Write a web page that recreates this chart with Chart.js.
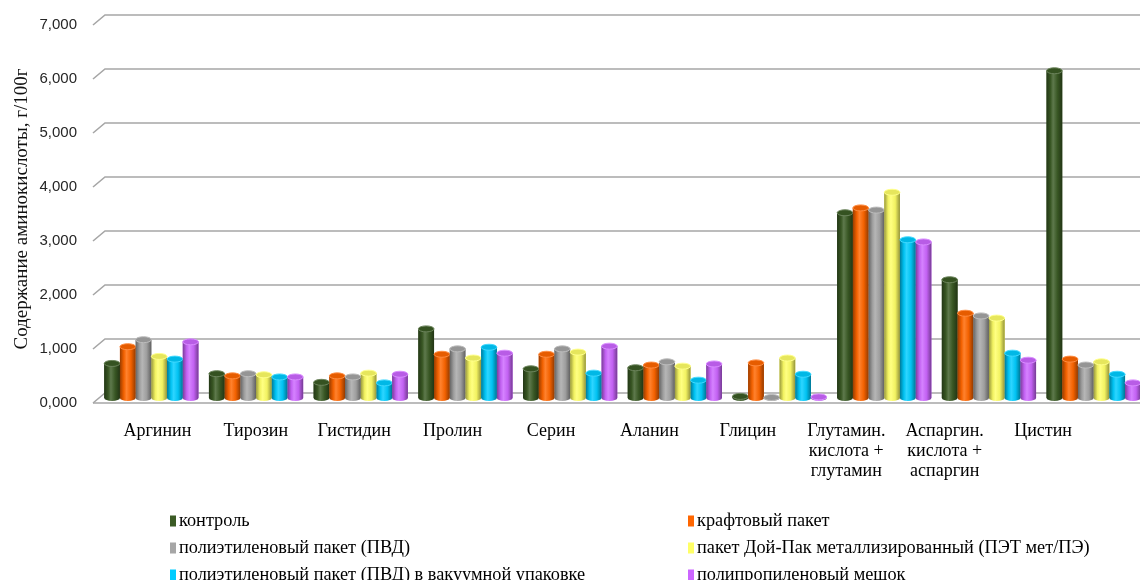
<!DOCTYPE html>
<html lang="ru">
<head>
<meta charset="utf-8">
<title>Содержание аминокислот</title>
<script src="https://cdn.jsdelivr.net/npm/chart.js@4.4.1/dist/chart.umd.min.js"></script>
<style>
  html, body { margin: 0; padding: 0; background: #fff; overflow: hidden; }
  #wrap { width: 1150px; height: 580px; }
</style>
</head>
<body>
<div id="wrap"><canvas id="aminoChart" width="1150" height="580"></canvas></div>
<script>
const categories = [
  'Аргинин', 'Тирозин', 'Гистидин', 'Пролин', 'Серин', 'Аланин', 'Глицин',
  ['Глутамин.', 'кислота +', 'глутамин'],
  ['Аспаргин.', 'кислота +', 'аспаргин'],
  'Цистин'
];

const seriesNames = [
  'контроль',
  'крафтовый пакет',
  'полиэтиленовый пакет (ПВД)',
  'пакет Дой-Пак металлизированный (ПЭТ мет/ПЭ)',
  'полиэтиленовый пакет (ПВД) в вакуумной упаковке',
  'полипропиленовый мешок'
];
const seriesColors = ['#3b5b25', '#ff6600', '#a6a6a6', '#ffff66', '#00ccff', '#cc66ff'];

// г/100г
const control    = [0.64, 0.45, 0.29, 1.28, 0.54, 0.56, 0.03, 3.43, 2.19, 6.06];
const kraft      = [0.95, 0.41, 0.41, 0.81, 0.81, 0.61, 0.65, 3.52, 1.57, 0.72];
const ldpe       = [1.08, 0.45, 0.39, 0.91, 0.91, 0.67, 0.01, 3.48, 1.52, 0.61];
const doypack    = [0.77, 0.43, 0.46, 0.74, 0.85, 0.59, 0.74, 3.81, 1.48, 0.67];
const ldpeVacuum = [0.72, 0.39, 0.28, 0.94, 0.46, 0.33, 0.44, 2.93, 0.83, 0.44];
const ppBag      = [1.04, 0.39, 0.44, 0.83, 0.96, 0.63, 0.02, 2.89, 0.70, 0.28];

const yTicks = [0, 1, 2, 3, 4, 5, 6, 7];

// pseudo-3D depth of the walls and floor
const DEPTH_X = 6;
const DEPTH_Y = 5;

const fmt = v => v.toFixed(3).replace('.', ',');

function shade(hex, f) {
  const n = parseInt(hex.slice(1), 16);
  let r = (n >> 16) & 255, g = (n >> 8) & 255, b = n & 255;
  if (f <= 1) {
    r *= f; g *= f; b *= f;
  } else {
    const t = f - 1;
    r += (255 - r) * t; g += (255 - g) * t; b += (255 - b) * t;
  }
  return `rgb(${Math.round(r)},${Math.round(g)},${Math.round(b)})`;
}

// back wall gridlines with the short diagonal to the front edge
const wallPlugin = {
  id: 'wall',
  beforeDatasetsDraw(chart) {
    const { ctx, chartArea } = chart;
    const y = chart.scales.y;
    const right = chart.width;
    ctx.save();
    ctx.strokeStyle = '#a6a6a6';
    ctx.lineWidth = 1.6;
    y.ticks.forEach(t => {
      const py = y.getPixelForValue(t.value);
      ctx.beginPath();
      ctx.moveTo(chartArea.left - DEPTH_X, py + DEPTH_Y);
      ctx.lineTo(chartArea.left + DEPTH_X, py - DEPTH_Y);
      ctx.lineTo(right, py - DEPTH_Y);
      ctx.stroke();
    });
    const p0 = y.getPixelForValue(0);
    ctx.beginPath();
    ctx.moveTo(chartArea.left - DEPTH_X, p0 + DEPTH_Y);
    ctx.lineTo(right, p0 + DEPTH_Y);
    ctx.stroke();
    ctx.restore();
  }
};

// paints each bar as a shaded cylinder
const cylinderPlugin = {
  id: 'cylinders',
  afterDatasetsDraw(chart) {
    const ctx = chart.ctx;
    chart.data.datasets.forEach((ds, di) => {
      const meta = chart.getDatasetMeta(di);
      const c = seriesColors[di];
      meta.data.forEach(bar => {
        const { x, y, base, width } = bar.getProps(['x', 'y', 'base', 'width'], true);
        const rx = width / 2, ry = 3;
        const l = x - rx, r = x + rx;
        const g = ctx.createLinearGradient(l, 0, r, 0);
        g.addColorStop(0, shade(c, 0.6));
        g.addColorStop(0.25, shade(c, 0.95));
        g.addColorStop(0.42, shade(c, 1.18));
        g.addColorStop(0.7, shade(c, 0.95));
        g.addColorStop(1, shade(c, 0.58));
        ctx.save();
        ctx.fillStyle = g;
        ctx.beginPath();
        ctx.moveTo(l, y);
        ctx.lineTo(l, base);
        ctx.ellipse(x, base, rx, ry, 0, Math.PI, 0, true);
        ctx.lineTo(r, y);
        ctx.closePath();
        ctx.fill();

        ctx.beginPath();
        ctx.ellipse(x, y, rx, ry, 0, 0, Math.PI * 2);
        ctx.fillStyle = shade(c, 0.9);
        ctx.fill();
        ctx.lineWidth = 1;
        ctx.strokeStyle = shade(c, 1.25);
        ctx.stroke();
        ctx.restore();
      });
    });
  }
};

// category names along the front edge of the floor
const xLabelPlugin = {
  id: 'xLabels',
  afterDraw(chart) {
    const { ctx } = chart;
    const xs = chart.scales.x;
    const top = chart.scales.y.getPixelForValue(0) + 33;
    const x0 = xs.getPixelForValue(0);
    ctx.save();
    ctx.font = '18px "Liberation Serif", "Times New Roman", serif';
    ctx.fillStyle = '#000';
    ctx.textAlign = 'center';
    ctx.textBaseline = 'middle';
    categories.forEach((lab, i) => {
      const px = x0 + 6 + 0.94 * (xs.getPixelForValue(i) - x0);
      const lines = Array.isArray(lab) ? lab : [lab];
      lines.forEach((ln, k) => ctx.fillText(ln, px, top + k * 20));
    });
    ctx.restore();
  }
};

// two-column legend under the plot
const legendPlugin = {
  id: 'twoColLegend',
  afterDraw(chart) {
    const { ctx } = chart;
    const cols = [170, 688];
    const rows = [521, 548, 575];
    ctx.save();
    ctx.font = '18.3px "Liberation Serif", "Times New Roman", serif';
    ctx.textBaseline = 'middle';
    ctx.textAlign = 'left';
    seriesNames.forEach((name, i) => {
      const cx = cols[i % 2];
      const cy = rows[Math.floor(i / 2)];
      ctx.fillStyle = seriesColors[i];
      ctx.fillRect(cx, cy - 5.5, 6, 11);
      ctx.fillStyle = '#000';
      ctx.fillText(name, cx + 9, cy);
    });
    ctx.restore();
  }
};

const seriesValues = [control, kraft, ldpe, doypack, ldpeVacuum, ppBag];

new Chart(document.getElementById('aminoChart'), {
  type: 'bar',
  data: {
    labels: categories,
    datasets: seriesValues.map((values, i) => ({
      label: seriesNames[i],
      data: values,
      backgroundColor: seriesColors[i],
      borderWidth: 0,
      categoryPercentage: 0.9,
      barPercentage: 1.0
    }))
  },
  options: {
    responsive: false,
    animation: false,
    layout: { padding: { top: 20, bottom: 182, left: 0, right: 4 } },
    plugins: {
      legend: { display: false },
      tooltip: { enabled: false }
    },
    scales: {
      x: {
        display: false,
        grid: { display: false }
      },
      y: {
        min: 0,
        max: 7,
        afterBuildTicks: scale => { scale.ticks = yTicks.map(v => ({ value: v })); },
        afterFit: scale => {
          scale.width = 99;
          scale.paddingTop = 0;
          scale.paddingBottom = 0;
        },
        grid: { display: false, drawTicks: false },
        border: { display: false },
        ticks: {
          padding: 22,
          labelOffset: 5,
          color: '#262626',
          font: { family: '"Liberation Sans", Arial, sans-serif', size: 15 },
          callback: v => fmt(v)
        },
        title: {
          display: true,
          text: 'Содержание аминокислоты, г/100г',
          color: '#111',
          font: { family: '"Liberation Serif", "Times New Roman", serif', size: 19 },
          padding: { top: 11, bottom: 0 }
        }
      }
    }
  },
  plugins: [wallPlugin, cylinderPlugin, xLabelPlugin, legendPlugin]
});
</script>
</body>
</html>
